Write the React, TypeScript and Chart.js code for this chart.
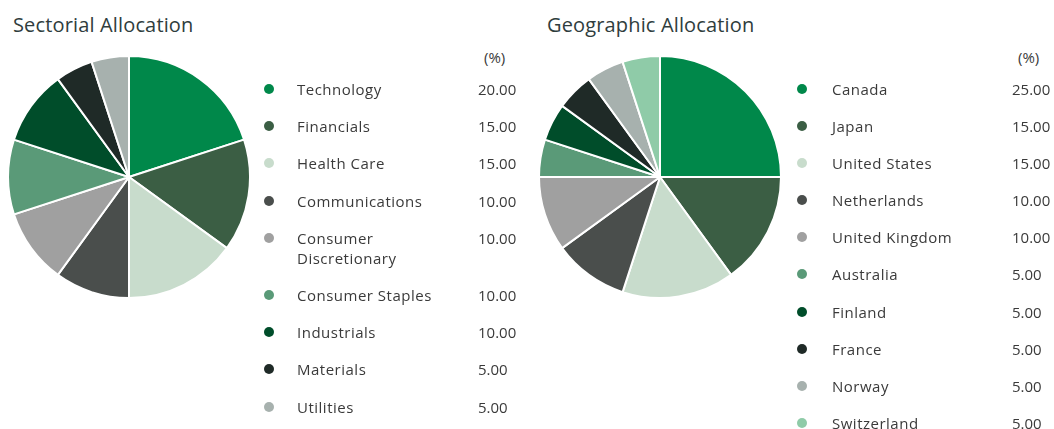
import React, { useEffect, useRef } from "react";
import { Chart, registerables } from "chart.js";

Chart.register(...registerables);

const sectorLabels = [
  "Technology",
  "Financials",
  "Health Care",
  "Communications",
  "Consumer Discretionary",
  "Consumer Staples",
  "Industrials",
  "Materials",
  "Utilities",
];
const sectorValues = [20, 15, 15, 10, 10, 10, 10, 5, 5];
const sectorColors = [
  "#00884A",
  "#3B5E44",
  "#C8DCCC",
  "#4A4E4C",
  "#A0A0A0",
  "#5A9A78",
  "#004D2A",
  "#1F2A27",
  "#A7B1AE",
];

const geoLabels = [
  "Canada",
  "Japan",
  "United States",
  "Netherlands",
  "United Kingdom",
  "Australia",
  "Finland",
  "France",
  "Norway",
  "Switzerland",
];
const geoValues = [25, 15, 15, 10, 10, 5, 5, 5, 5, 5];
const geoColors = [
  "#00884A",
  "#3B5E44",
  "#C8DCCC",
  "#4A4E4C",
  "#A0A0A0",
  "#5A9A78",
  "#004D2A",
  "#1F2A27",
  "#A7B1AE",
  "#8FCBA8",
];

const FONT = "'Open Sans', 'Noto Sans', sans-serif";
const TEXT = "#3a3a3a";

function Pie({ labels, values, colors, left, top, size }: any) {
  const ref = useRef<HTMLCanvasElement>(null);
  useEffect(() => {
    const chart = new Chart(ref.current!, {
      type: "pie",
      data: {
        labels,
        datasets: [
          {
            data: values,
            backgroundColor: colors,
            borderColor: "#ffffff",
            borderWidth: 2,
          },
        ],
      },
      options: {
        animation: false,
        responsive: false,
        maintainAspectRatio: false,
        layout: { padding: 0 },
        plugins: { legend: { display: false }, tooltip: { enabled: false } },
      },
    });
    return () => chart.destroy();
  }, []);
  return (
    <canvas
      ref={ref}
      width={size}
      height={size}
      style={{ position: "absolute", left, top, width: size, height: size }}
    />
  );
}

function Legend({ labels, values, colors, dotX, textX, valX, top, textWidth, rowGap }: any) {
  return (
    <div style={{ position: "absolute", left: 0, top, width: 1054 }}>
      <div
        style={{
          position: "absolute",
          left: valX + 6,
          top: -32,
          fontSize: 15,
          lineHeight: "20px",
          color: TEXT,
        }}
      >
        (%)
      </div>
      <div style={{ position: "relative" }}>
        {labels.map((l: string, i: number) => (
          <div
            key={l}
            style={{ position: "relative", marginBottom: rowGap, lineHeight: "20px" }}
          >
            <span
              style={{
                position: "absolute",
                left: dotX - 5,
                top: 5,
                width: 10,
                height: 10,
                borderRadius: 5,
                background: colors[i],
              }}
            />
            <div
              style={{
                marginLeft: textX,
                width: textWidth,
                fontSize: 15,
                letterSpacing: "0.5px",
                color: TEXT,
              }}
            >
              {l}
            </div>
            <span
              style={{
                position: "absolute",
                left: valX,
                top: 0,
                fontSize: 15,
                color: TEXT,
              }}
            >
              {values[i].toFixed(2)}
            </span>
          </div>
        ))}
      </div>
    </div>
  );
}

export default function App() {
  return (
    <div
      style={{
        position: "fixed",
        left: 0,
        top: 0,
        width: 1054,
        height: 429,
        background: "#ffffff",
        overflow: "hidden",
        fontFamily: FONT,
      }}
    >
      <div style={{ position: "absolute", left: 13, top: 11, fontSize: 20, letterSpacing: "0.15px", color: "#2f3d3d", lineHeight: "28px" }}>
        Sectorial Allocation
      </div>
      <div style={{ position: "absolute", left: 547, top: 11, fontSize: 20, letterSpacing: "0.15px", color: "#2f3d3d", lineHeight: "28px" }}>
        Geographic Allocation
      </div>
      <Pie labels={sectorLabels} values={sectorValues} colors={sectorColors} left={7} top={55} size={244} />
      <Pie labels={geoLabels} values={geoValues} colors={geoColors} left={538} top={55} size={244} />
      <Legend
        labels={sectorLabels}
        values={sectorValues}
        colors={sectorColors}
        dotX={269}
        textX={297}
        valX={478}
        top={79}
        textWidth={170}
        rowGap={17.2}
      />
      <Legend
        labels={geoLabels}
        values={geoValues}
        colors={geoColors}
        dotX={802}
        textX={832}
        valX={1012}
        top={79}
        textWidth={175}
        rowGap={17.1}
      />
    </div>
  );
}
